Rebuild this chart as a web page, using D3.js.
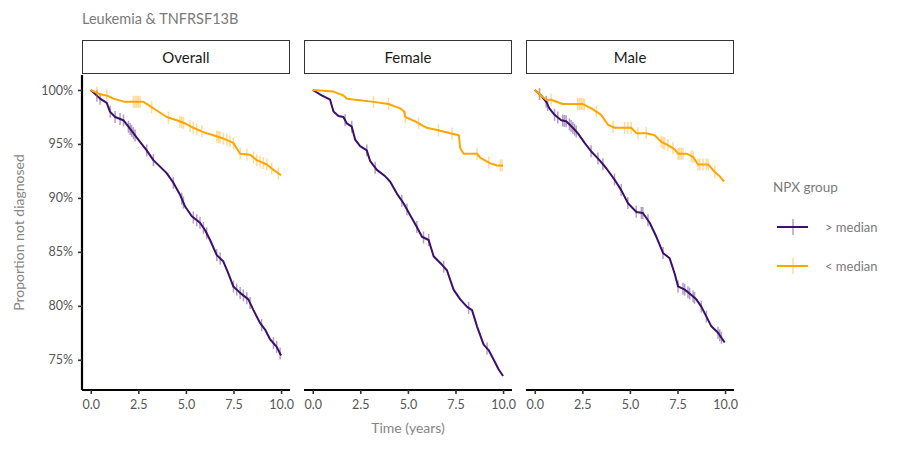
<!DOCTYPE html>
<html>
<meta charset="utf-8">
<style type="text/css">
  body { margin: 0; background: #fff; }
  text { font-family: Lato, "Open Sans", sans-serif; }
</style>
<body>
<script src="https://d3js.org/d3.v7.min.js"></script>
<div id="chart"></div>
<script>
  // ---- data ----
  const panels = ["Overall", "Female", "Male"];
  const groups = ["> median", "< median"];
  const xTicks = [0, 2.5, 5, 7.5, 10];
  const yTicks = [75, 80, 85, 90, 95, 100];

  // [time, % not diagnosed]
  const overallHigh = [[0,100],[0.49,99.2],[0.84,98.8],[1.01,98.0],[1.28,97.5],[1.71,97.2],[1.98,96.6],[2.24,96.0],[2.59,95.2],[2.94,94.4],[3.29,93.5],[3.64,92.9],[3.99,92.3],[4.34,91.4],[4.69,90.3],[4.96,89.2],[5.31,88.3],[5.74,87.7],[6.01,87.0],[6.27,86.1],[6.62,84.7],[6.97,84.1],[7.23,83.0],[7.49,81.8],[7.85,81.2],[8.28,80.6],[8.55,79.6],[8.90,78.4],[9.16,77.8],[9.42,76.9],[9.77,76.2],[10.0,75.4]];
  const overallLow = [[0,100],[0.49,99.6],[0.84,99.5],[1.19,99.2],[1.80,98.9],[2.77,98.9],[3.12,98.5],[3.47,98.1],[3.99,97.5],[4.52,97.2],[4.96,96.9],[5.39,96.5],[5.92,96.1],[6.44,95.8],[6.97,95.5],[7.49,95.1],[7.85,94.1],[8.37,94.0],[8.72,93.5],[9.25,93.1],[9.60,92.6],[10.0,92.1]];
  const femaleHigh = [[0,100],[0.47,99.5],[0.91,99.1],[1.09,98.0],[1.35,97.6],[1.61,97.5],[1.79,96.9],[2.05,96.6],[2.23,95.4],[2.49,94.8],[2.84,94.4],[3.02,93.4],[3.37,92.6],[3.81,92.0],[4.07,91.5],[4.42,90.4],[4.77,89.5],[5.12,88.4],[5.47,87.3],[5.74,86.4],[6.09,86.1],[6.35,84.6],[6.79,83.8],[7.05,83.3],[7.40,81.5],[7.75,80.6],[8.11,79.9],[8.37,79.6],[8.63,78.1],[8.98,76.4],[9.24,75.9],[9.51,75.0],[9.77,74.1],[10.0,73.5]];
  const femaleLow = [[0,100],[1.09,99.85],[1.61,99.5],[1.80,99.2],[3.19,98.9],[3.98,98.7],[4.59,98.3],[4.80,98.0],[4.86,97.5],[5.38,97.1],[6.0,96.5],[6.53,96.3],[7.23,96.0],[7.68,95.8],[7.75,94.6],[7.93,94.1],[8.63,94.1],[8.81,93.7],[9.33,93.2],[9.68,93.0],[10.0,93.0]];
  const maleHigh = [[0,100],[0.33,99.5],[0.60,98.9],[0.77,98.3],[1.04,97.7],[1.39,97.2],[1.65,97.1],[2.0,96.5],[2.26,96.0],[2.62,95.1],[2.97,94.3],[3.40,93.5],[3.76,92.75],[4.19,91.7],[4.55,90.7],[4.90,89.5],[5.34,88.7],[5.68,88.6],[6.04,87.7],[6.39,86.4],[6.74,84.9],[7.09,84.4],[7.35,83.0],[7.53,81.8],[7.88,81.5],[8.23,81.0],[8.49,80.6],[8.76,79.9],[9.02,79.0],[9.28,78.1],[9.63,77.5],[9.98,76.6]];
  const maleLow = [[0,100],[0.33,99.5],[0.60,99.1],[0.86,99.1],[1.47,98.7],[2.53,98.7],[2.97,98.3],[3.23,98.0],[3.49,97.7],[3.84,96.8],[4.19,96.5],[5.07,96.5],[5.34,96.0],[5.86,96.0],[6.30,95.8],[6.65,95.2],[7.0,94.9],[7.35,94.5],[7.53,94.1],[7.97,94.1],[8.32,93.8],[8.58,93.1],[9.11,93.1],[9.46,92.4],[9.72,92.0],[9.95,91.5]];

  // censoring times
  const overallHighCens = [0.32,0.49,1.02,1.28,1.54,1.72,1.98,2.07,2.15,2.24,2.33,2.94,3.29,4.34,4.78,4.87,5.39,5.57,5.74,5.92,6.09,6.62,6.80,7.50,7.67,7.85,8.02,8.20,8.37,8.98,9.60,9.77,9.95];
  const overallLowCens = [0.32,0.84,2.24,2.33,2.42,2.50,2.59,3.20,4.08,4.69,4.78,4.87,5.22,5.39,5.57,5.83,6.62,6.71,6.79,6.97,7.15,7.32,7.50,7.85,8.20,8.55,8.72,8.90,9.07,9.25,9.51,9.86];
  const femaleHighCens = [1.70,2.05,2.84,3.28,4.68,4.95,5.47,5.82,6.09,6.88,8.19,9.16];
  const femaleLowCens = [3.19,3.98,4.86,5.56,6.61,7.32,8.63,9.25,9.86,9.95];
  const maleHighCens = [0.25,0.60,0.68,1.04,1.21,1.47,1.56,1.65,1.82,1.91,2.0,2.09,2.18,2.96,3.32,3.58,4.19,4.54,4.89,5.33,5.60,5.68,5.95,6.74,7.53,7.79,7.88,8.05,8.14,8.32,8.40,8.75,9.02,9.63,9.72,9.81];
  const maleLowCens = [0.25,0.86,2.26,2.35,2.44,2.53,2.61,3.23,4.11,4.72,4.89,5.07,5.42,5.86,6.65,6.74,6.82,7.0,7.26,7.53,7.61,7.70,7.79,8.23,8.32,8.58,8.67,8.84,9.02,9.11,9.46];

  const curves = {
    Overall: [[overallHigh, overallHighCens], [overallLow, overallLowCens]],
    Female: [[femaleHigh, femaleHighCens], [femaleLow, femaleLowCens]],
    Male: [[maleHigh, maleHighCens], [maleLow, maleLowCens]]
  };
  const colors = ["#3d0e6b", "#ffa500"];

  // ---- layout ----
  const width = 910, height = 450;
  const panelLeft = 82, panelW = 208, panelGap = 14;
  const plotTop = 75, plotBottom = 390;

  const svg = d3.select("#chart").append("svg")
    .attr("width", width)
    .attr("height", height);
  svg.append("rect").attr("width", width).attr("height", height).attr("fill", "#fff");

  const y = d3.scaleLinear().domain([72.2, 101.39]).range([plotBottom, plotTop]);

  // value on the curve at time t
  function valueAt(pts, t) {
    for (let i = 1; i < pts.length; i++) {
      if (t <= pts[i][0]) {
        const a = pts[i - 1], b = pts[i];
        const f = (t - a[0]) / (b[0] - a[0]);
        return a[1] + f * (b[1] - a[1]);
      }
    }
    return pts[pts.length - 1][1];
  }

  svg.append("text")
    .attr("x", 82).attr("y", 24)
    .attr("fill", "#7a7a7a")
    .style("font-size", "14.5px")
    .text("Leukemia & TNFRSF13B");

  panels.forEach((name, i) => {
    const x0 = panelLeft + i * (panelW + panelGap);
    const x = d3.scaleLinear().domain([-0.46, 10.47]).range([x0, x0 + panelW]);
    const g = svg.append("g");

    // strip
    g.append("rect")
      .attr("x", x0 + 0.5).attr("y", 40.5)
      .attr("width", panelW - 1).attr("height", 33)
      .attr("fill", "#fff").attr("stroke", "#333").attr("stroke-width", 1);
    g.append("text")
      .attr("x", x0 + panelW / 2).attr("y", 63)
      .attr("text-anchor", "middle")
      .attr("fill", "#1a1a1a")
      .style("font-size", "15px")
      .text(name);

    // x axis
    const xa = g.append("g")
      .attr("transform", `translate(0,${plotBottom})`)
      .call(d3.axisBottom(x).tickValues(xTicks).tickSize(4).tickPadding(6).tickFormat(d3.format(".1f")));
    xa.select(".domain").attr("stroke", "#000").attr("stroke-width", 2.2)
      .attr("d", `M${x0},0H${x0 + panelW}`);
    xa.selectAll(".tick line").attr("stroke", "#333").attr("stroke-width", 1.6);
    xa.selectAll(".tick text").attr("fill", "#555").style("font-size", "12.5px")
      .style("font-family", "Lato, sans-serif");

    // curves
    curves[name].forEach(([pts, cens], k) => {
      g.selectAll(null).data(cens).enter().append("line")
        .attr("x1", d => x(d)).attr("x2", d => x(d))
        .attr("y1", d => y(valueAt(pts, d)) - 6)
        .attr("y2", d => y(valueAt(pts, d)) + 6)
        .attr("stroke", colors[k]).attr("stroke-opacity", 0.4).attr("stroke-width", 1.5);
      g.append("path")
        .datum(pts)
        .attr("fill", "none")
        .attr("stroke", colors[k])
        .attr("stroke-width", 2)
        .attr("stroke-linejoin", "round")
        .attr("d", d3.line().x(d => x(d[0])).y(d => y(d[1])));
    });
  });

  // y axis (first panel only)
  const ya = svg.append("g")
    .attr("transform", `translate(${panelLeft},0)`)
    .call(d3.axisLeft(y).tickValues(yTicks).tickSize(4).tickPadding(5).tickFormat(d => d + "%"));
  ya.select(".domain").attr("stroke", "#000").attr("stroke-width", 2.2)
    .attr("d", `M0,${plotTop}V${plotBottom}`);
  ya.selectAll(".tick line").attr("stroke", "#333").attr("stroke-width", 1.6);
  ya.selectAll(".tick text").attr("fill", "#555").style("font-size", "12.5px")
    .style("font-family", "Lato, sans-serif");

  // axis titles
  svg.append("text")
    .attr("x", panelLeft + (3 * panelW + 2 * panelGap) / 2).attr("y", 433)
    .attr("text-anchor", "middle").attr("fill", "#858585")
    .style("font-size", "14px")
    .text("Time (years)");
  svg.append("text")
    .attr("transform", `translate(24,${(plotTop + plotBottom) / 2}) rotate(-90)`)
    .attr("text-anchor", "middle").attr("fill", "#858585")
    .style("font-size", "14px")
    .text("Proportion not diagnosed");

  // legend
  const lg = svg.append("g").attr("transform", "translate(773,0)");
  lg.append("text").attr("x", 0).attr("y", 192)
    .attr("fill", "#7a7a7a").style("font-size", "13.5px").text("NPX group");
  groups.forEach((label, k) => {
    const ly = 227 + k * 39;
    lg.append("line").attr("x1", 20).attr("x2", 20).attr("y1", ly - 8).attr("y2", ly + 8)
      .attr("stroke", colors[k]).attr("stroke-opacity", 0.4).attr("stroke-width", 1.5);
    lg.append("line").attr("x1", 4).attr("x2", 35).attr("y1", ly).attr("y2", ly)
      .attr("stroke", colors[k]).attr("stroke-width", 2);
    lg.append("text").attr("x", 52).attr("y", ly + 4.5)
      .attr("fill", "#7a7a7a").style("font-size", "13px").text(label);
  });
</script>
</body>
</html>
